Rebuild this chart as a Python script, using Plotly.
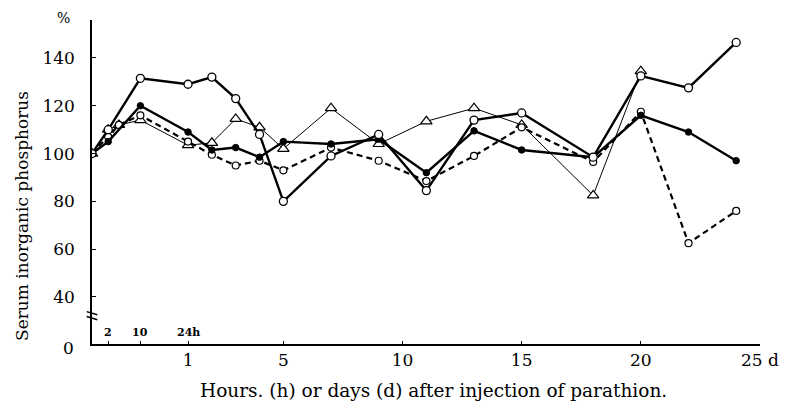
import plotly.graph_objects as go

# time points (labels) and their positions on the (broken, non-linear) time axis
time_labels = ["0h", "2h", "4h", "10h", "1d", "2d", "3d", "4d", "5d", "7d", "9d",
               "11d", "13d", "15d", "18d", "20d", "22d", "24d"]
x_pos = [-3.03, -2.35, -1.9, -1.0, 1, 2, 3, 4, 5, 7, 9, 11, 13, 15, 18, 20, 22, 24]

# series values (% of initial serum inorganic phosphorus)
series_a = [100, 110, None, 131.5, 129, 132, 123, 108, 80, 99, 108, 84.5, 114, 117, 98.5, 132.5, 127.5, 146.5]
series_b = [100, 105, None, 120, 109, 101.5, 102.5, 98.5, 105, 104, 106, 92, 109.5, 101.5, 98.5, 116, 109, 97]
series_c = [100, 107, 112, 116, 105, 99.5, 95, 97, 93, 102.5, 97, 88.5, 99, 111, 96.5, 117.5, 62.5, 76]
series_d = [100, 110, 112, 114, 103.5, 104.5, 114.5, 111, 102, 119, 104, 113.5, 119, 112, 82.5, 134.5, None, None]

x_tickvals = [-2.35, -1.0, 1, 5, 10, 15, 20, 25]
x_ticktext = ["", "", "1", "5", "10", "15", "20", "25 d"]
hour_marks = [(-2.35, "2"), (-1.0, "10"), (1, "24h")]
y_tickvals = [40, 60, 80, 100, 120, 140]

FONT = "DejaVu Serif"

fig = go.Figure()

fig.add_trace(go.Scatter(
    x=x_pos, y=series_d, mode="lines+markers", connectgaps=True,
    line=dict(color="black", width=1),
    marker=dict(symbol="triangle-up", size=10, color="white",
                line=dict(color="black", width=1.2)),
    name="D"))
fig.add_trace(go.Scatter(
    x=x_pos, y=series_c, mode="lines+markers", connectgaps=True,
    line=dict(color="black", width=2.2, dash="6px,4px"),
    marker=dict(symbol="circle", size=7, color="white",
                line=dict(color="black", width=1.2)),
    name="C"))
fig.add_trace(go.Scatter(
    x=x_pos, y=series_b, mode="lines+markers", connectgaps=True,
    line=dict(color="black", width=2.4),
    marker=dict(symbol="circle", size=6.5, color="black",
                line=dict(color="black", width=1)),
    name="B"))
fig.add_trace(go.Scatter(
    x=x_pos, y=series_a, mode="lines+markers", connectgaps=True,
    line=dict(color="black", width=2.4),
    marker=dict(symbol="circle", size=8, color="white",
                line=dict(color="black", width=1.3)),
    name="A"))

annotations = [
    dict(text="%", x=0, y=1, xref="paper", yref="paper", xanchor="right",
         yanchor="bottom", xshift=-20, yshift=-8, showarrow=False,
         font=dict(family=FONT, size=14, color="black")),
    dict(text="0", x=0, y=0, xref="paper", yref="paper", xanchor="right",
         yanchor="middle", xshift=-16, yshift=-4, showarrow=False,
         font=dict(family=FONT, size=17, color="black")),
    dict(text="Serum inorganic phosphorus", x=0, y=0.395, xref="paper", yref="paper",
         xanchor="center", yanchor="middle", xshift=-70, textangle=-90, showarrow=False,
         font=dict(family=FONT, size=17, color="black")),
    dict(text="Hours. (h) or days (d) after injection of parathion.", x=0.5, y=0,
         xref="paper", yref="paper", xanchor="center", yanchor="middle",
         xshift=7, yshift=-46, showarrow=False,
         font=dict(family=FONT, size=18.5, color="black")),
]
for xv, txt in hour_marks:
    annotations.append(dict(text="<b>%s</b>" % txt, x=xv, y=0, xref="x", yref="paper",
                            xanchor="center", yanchor="bottom", yshift=3, showarrow=False,
                            font=dict(family=FONT, size=11, color="black")))

shapes = [
    dict(type="line", xref="paper", yref="paper", x0=-0.008, x1=0.008,
         y0=0.100, y1=0.090, line=dict(color="black", width=1.5)),
    dict(type="line", xref="paper", yref="paper", x0=-0.008, x1=0.008,
         y0=0.085, y1=0.075, line=dict(color="black", width=1.5)),
]

fig.update_layout(
    width=798, height=407,
    margin=dict(l=92, r=38, t=20, b=63),
    paper_bgcolor="white", plot_bgcolor="white",
    showlegend=False,
    font=dict(family=FONT, size=17, color="black"),
    annotations=annotations,
    shapes=shapes,
    xaxis=dict(range=[-3.03, 25], showgrid=False, zeroline=False,
               showline=True, linecolor="black", linewidth=1.5,
               tickvals=x_tickvals, ticktext=x_ticktext,
               ticks="inside", ticklen=3, tickcolor="black",
               tickfont=dict(family=FONT, size=17), automargin=False),
    yaxis=dict(range=[20.3, 155.9], showgrid=False, zeroline=False,
               showline=True, linecolor="black", linewidth=1.5,
               tickvals=y_tickvals, ticks="inside", ticklen=4, tickcolor="black",
               tickfont=dict(family=FONT, size=17), ticklabelstandoff=12,
               automargin=False),
)

fig.write_html("out.html", config={"displayModeBar": False},
               post_script="document.body.style.margin='0';")
